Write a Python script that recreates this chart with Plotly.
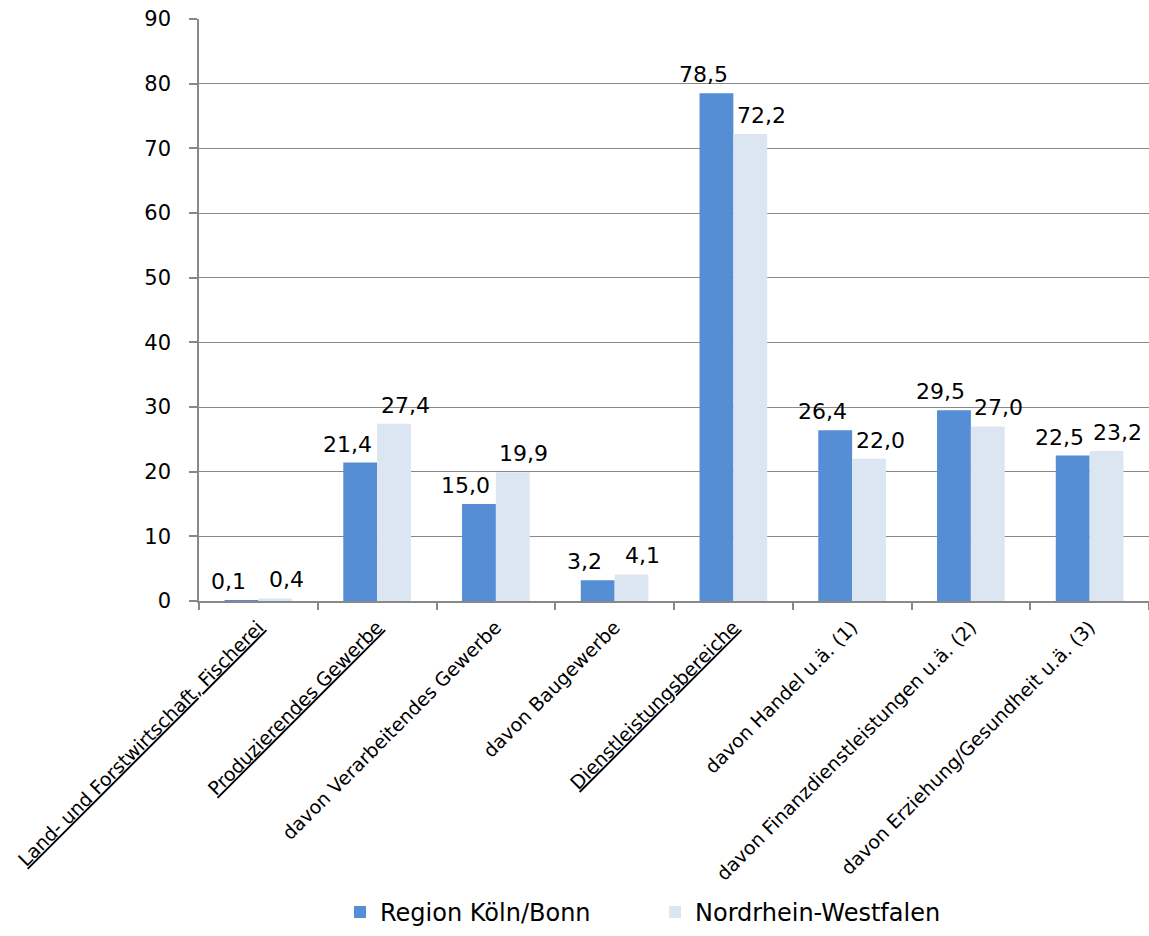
import plotly.graph_objects as go

categories = [
    "<u>Land- und Forstwirtschaft, Fischerei</u>",
    "<u>Produzierendes Gewerbe</u>",
    "davon Verarbeitendes Gewerbe",
    "davon Baugewerbe",
    "<u>Dienstleistungsbereiche</u>",
    "davon Handel u.ä. (1)",
    "davon Finanzdienstleistungen u.ä. (2)",
    "davon Erziehung/Gesundheit u.ä. (3)",
]
koeln_bonn = [0.1, 21.4, 15.0, 3.2, 78.5, 26.4, 29.5, 22.5]
nrw = [0.4, 27.4, 19.9, 4.1, 72.2, 22.0, 27.0, 23.2]
y_ticks = [0, 10, 20, 30, 40, 50, 60, 70, 80, 90]

FONT = "DejaVu Sans"
WIDTH, HEIGHT = 1149, 936
MARGIN = dict(l=199, r=0, t=19, b=335)
BARGAP = 0.43
BLUE, LIGHT = "#558ED5", "#DCE6F2"


def de(v):
    return f"{v:.1f}".replace(".", ",")


fig = go.Figure()
fig.add_trace(go.Bar(
    name="Region Köln/Bonn", x=categories, y=koeln_bonn,
    marker=dict(color=BLUE, line=dict(width=0)),
))
fig.add_trace(go.Bar(
    name="Nordrhein-Westfalen", x=categories, y=nrw,
    marker=dict(color=LIGHT, line=dict(width=0)),
))

# value labels: centred on each bar, pushed slightly outward so neighbours don't collide
plot_w = WIDTH - MARGIN["l"] - MARGIN["r"]
bar_w = plot_w / len(categories) * (1 - BARGAP) / 2
half = bar_w / 2
for series, side, spread in ((koeln_bonn, -1, 13), (nrw, 1, 11)):
    for cat, val in zip(categories, series):
        fig.add_annotation(
            x=cat, y=val, xref="x", yref="y", text=de(val), showarrow=False,
            xanchor="center", yanchor="bottom", xshift=side * (half + spread), yshift=4,
            font=dict(size=22, family=FONT, color="#000000"),
        )

fig.update_layout(
    width=WIDTH, height=HEIGHT, margin=MARGIN,
    paper_bgcolor="white", plot_bgcolor="white",
    barmode="group", bargap=BARGAP, bargroupgap=0,
    font=dict(family=FONT, color="#000000"),
    showlegend=True,
    legend=dict(
        orientation="h", x=0.48, xanchor="center", y=-0.535, yanchor="middle",
        font=dict(size=24, family=FONT), traceorder="normal",
        entrywidth=270, entrywidthmode="pixels",
    ),
)
fig.update_xaxes(
    type="category", tickangle=-45, tickson="boundaries",
    ticks="outside", ticklen=7, tickcolor="#888888", tickwidth=1.5,
    showline=True, linecolor="#888888", linewidth=1.5,
    tickfont=dict(size=19, family=FONT, color="#000000"),
    ticklabelstandoff=6, showgrid=False,
)
fig.update_yaxes(
    range=[0, 90], tickvals=y_ticks, ticktext=[str(t) for t in y_ticks],
    ticks="outside", ticklen=8, tickcolor="#888888", tickwidth=1.5,
    showline=True, linecolor="#888888", linewidth=1.5,
    showgrid=True, gridcolor="#888888", gridwidth=1.2,
    zeroline=False, ticklabelstandoff=14,
    tickfont=dict(size=21, family=FONT, color="#000000"),
)

fig.write_html("out.html")
